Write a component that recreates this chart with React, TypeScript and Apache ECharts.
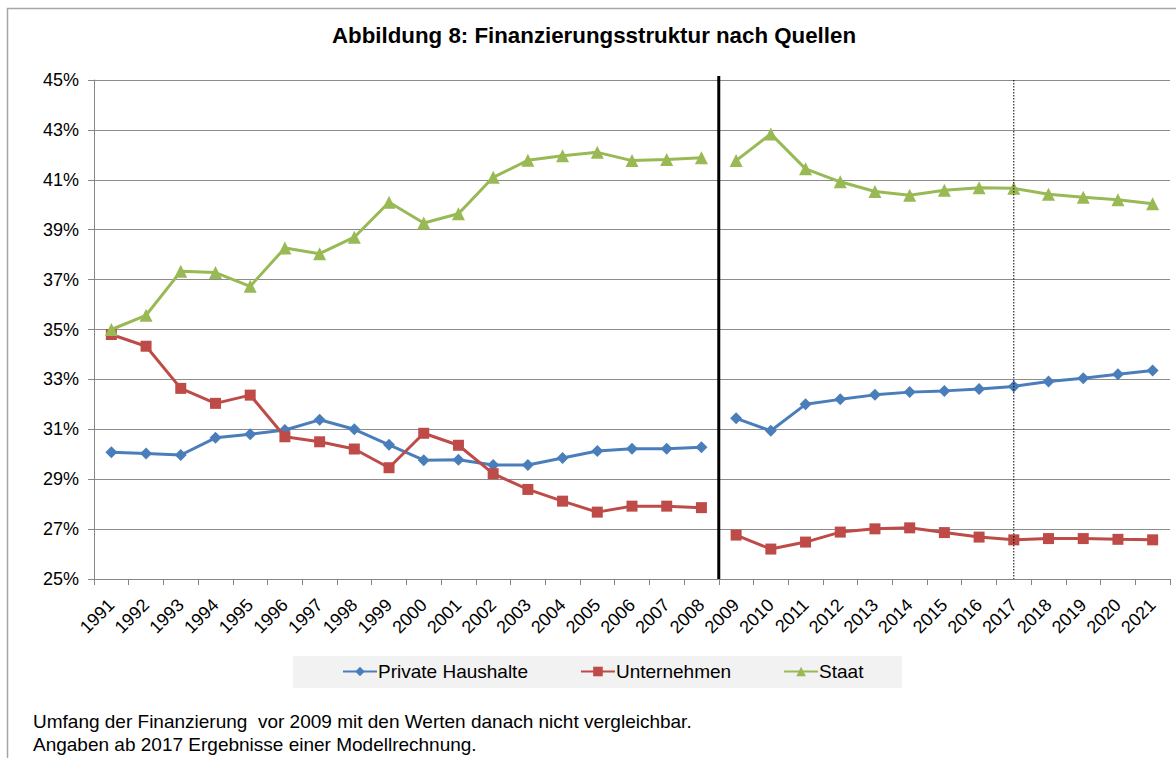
import React, { useEffect, useRef } from "react";
import * as echarts from "echarts";

const years = [
  "1991", "1992", "1993", "1994", "1995", "1996", "1997", "1998", "1999", "2000",
  "2001", "2002", "2003", "2004", "2005", "2006", "2007", "2008", "2009", "2010",
  "2011", "2012", "2013", "2014", "2015", "2016", "2017", "2018", "2019", "2020", "2021",
];

const privateHaushalte = [
  30.08, 30.03, 29.97, 30.66, 30.8, 30.97, 31.38, 31.0, 30.38, 29.76,
  29.78, 29.57, 29.57, 29.85, 30.13, 30.22, 30.22, 30.28, 31.44, 30.94,
  32.0, 32.2, 32.38, 32.49, 32.54, 32.62, 32.72, 32.92, 33.05, 33.21, 33.36,
];

const unternehmen = [
  34.8, 34.33, 32.64, 32.04, 32.37, 30.7, 30.5, 30.21, 29.46, 30.84,
  30.36, 29.22, 28.59, 28.12, 27.68, 27.92, 27.92, 27.86, 26.76, 26.2,
  26.48, 26.88, 27.01, 27.05, 26.86, 26.68, 26.57, 26.62, 26.62, 26.59, 26.57,
];

const staat = [
  35.0, 35.57, 37.33, 37.28, 36.73, 38.27, 38.04, 38.7, 40.1, 39.27,
  39.64, 41.1, 41.78, 41.96, 42.1, 41.77, 41.81, 41.88, 41.77, 42.84,
  41.44, 40.92, 40.53, 40.38, 40.58, 40.68, 40.66, 40.42, 40.3, 40.2, 40.04,
];

const seriesNames = ["Private Haushalte", "Unternehmen", "Staat"];
const breakYear = "2009";
const modelYear = "2017";
const titleText = "Abbildung 8: Finanzierungsstruktur nach Quellen";
const footnotes = [
  "Umfang der Finanzierung  vor 2009 mit den Werten danach nicht vergleichbar.",
  "Angaben ab 2017 Ergebnisse einer Modellrechnung.",
];

const FONT = "'Liberation Sans', Arial, sans-serif";

export default function App() {
  const ref = useRef<HTMLDivElement>(null);

  useEffect(() => {
    if (!ref.current) return;
    const chart = echarts.init(ref.current, null, { renderer: "svg" });
    const breakIdx = years.indexOf(breakYear);

    const styles = [
      { color: "#4A7EBB", symbol: "diamond", size: 12 },
      { color: "#BE4B48", symbol: "rect", size: 11 },
      { color: "#98B954", symbol: "triangle", size: 13 },
    ];
    const values = [privateHaushalte, unternehmen, staat];

    const series: any[] = [];
    values.forEach((arr, i) => {
      const st = styles[i];
      const pre = arr.map((v, k) => (k < breakIdx ? v : null));
      const post = arr.map((v, k) => (k >= breakIdx ? v : null));
      [pre, post].forEach((d) => {
        series.push({
          type: "line",
          name: seriesNames[i],
          data: d,
          symbol: st.symbol,
          symbolSize: st.size,
          showSymbol: true,
          connectNulls: false,
          itemStyle: { color: st.color },
          lineStyle: { color: st.color, width: 3 },
          z: 3 + i,
        });
      });
    });

    const gridLeft = 94;
    const gridTop = 80;
    const gridRight = 6;
    const gridBottom = 179;

    chart.setOption({
      animation: false,
      textStyle: { fontFamily: FONT },
      grid: { left: gridLeft, right: gridRight, top: gridTop, bottom: gridBottom, containLabel: false },
      xAxis: {
        type: "category",
        data: years,
        boundaryGap: true,
        axisLine: { show: true, lineStyle: { color: "#868686", width: 1 } },
        axisTick: { show: true, length: 6, lineStyle: { color: "#868686" } },
        axisLabel: {
          rotate: 45,
          interval: 0,
          margin: 23,
          color: "#000",
          fontSize: 18,
          fontFamily: FONT,
        },
        splitLine: { show: false },
      },
      yAxis: {
        type: "value",
        min: 25,
        max: 45,
        interval: 2,
        axisLine: { show: true, lineStyle: { color: "#868686", width: 1 } },
        axisTick: { show: true, length: 6, lineStyle: { color: "#868686" } },
        axisLabel: {
          formatter: "{value}%",
          color: "#000",
          fontSize: 18,
          margin: 15,
          fontFamily: FONT,
        },
        splitLine: { show: true, lineStyle: { color: "#8C8C8C", width: 1 } },
      },
      legend: {
        data: seriesNames,
        left: 342,
        top: 662,
        padding: 0,
        itemWidth: 34,
        itemHeight: 12,
        itemGap: 52,
        textStyle: { fontSize: 19, color: "#000", fontFamily: FONT, padding: [0, 0, 0, -4] },
        selectedMode: false,
      },
      series,
    });

    const w = chart.getWidth();
    const h = chart.getHeight();
    const x08 = chart.convertToPixel({ xAxisIndex: 0 }, years[breakIdx - 1]) as number;
    const x09 = chart.convertToPixel({ xAxisIndex: 0 }, years[breakIdx]) as number;
    const xBreak = (x08 + x09) / 2;
    const xModel = chart.convertToPixel({ xAxisIndex: 0 }, modelYear) as number;
    const yTop = chart.convertToPixel({ yAxisIndex: 0 }, 45) as number;
    const yBottom = chart.convertToPixel({ yAxisIndex: 0 }, 25) as number;

    chart.setOption({
      graphic: [
        {
          type: "rect",
          shape: { x: 7.5, y: 8.5, width: w + 20, height: h + 20 },
          style: { fill: "none", stroke: "#A6A6A6", lineWidth: 1.5 },
          silent: true,
          z: -10,
        },
        {
          type: "text",
          x: 594,
          y: 35,
          style: {
            text: titleText,
            fontSize: 22.3,
            fontWeight: "bold",
            fontFamily: FONT,
            fill: "#000",
            align: "center",
            verticalAlign: "middle",
          },
        },
        {
          type: "rect",
          shape: { x: 293, y: 656, width: 609, height: 32 },
          style: { fill: "#F2F2F2" },
          silent: true,
          z: -5,
        },
        {
          type: "line",
          shape: { x1: xBreak, y1: yTop - 4, x2: xBreak, y2: yBottom },
          style: { stroke: "#000", lineWidth: 3 },
          z: 10,
        },
        {
          type: "line",
          shape: { x1: xModel, y1: yTop, x2: xModel, y2: yBottom },
          style: { stroke: "#000", lineWidth: 1, lineDash: [1.5, 1.5] },
          z: 10,
        },
        {
          type: "text",
          x: 33,
          y: 721,
          style: { text: footnotes[0], fontSize: 19, fontFamily: FONT, fill: "#000", verticalAlign: "middle" },
        },
        {
          type: "text",
          x: 33,
          y: 744,
          style: { text: footnotes[1], fontSize: 19, fontFamily: FONT, fill: "#000", verticalAlign: "middle" },
        },
      ],
    });

    return () => chart.dispose();
  }, []);

  return (
    <div
      ref={ref}
      style={{ position: "fixed", left: 0, top: 0, width: 1176, height: 758, background: "#fff" }}
    />
  );
}
